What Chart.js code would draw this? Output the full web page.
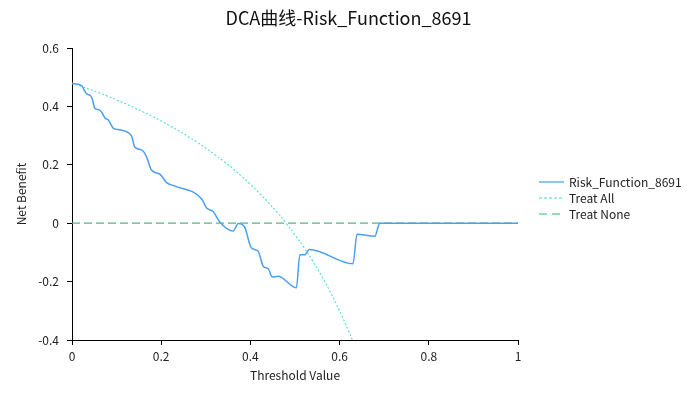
<!DOCTYPE html>
<html>
<head>
<meta charset="utf-8">
<script src="https://cdn.jsdelivr.net/npm/chart.js@4"></script>
<style>
  html, body { margin: 0; padding: 0; background: #fff; }
  #wrap { width: 687px; height: 393px; }
</style>
</head>
<body>
<div id="wrap"><canvas id="myChart" width="687" height="393"></canvas></div>
<script>
const riskX = [0, 0.022, 0.027, 0.033, 0.042, 0.046, 0.051, 0.061, 0.067, 0.074, 0.081, 0.093, 0.107, 0.126, 0.134, 0.141, 0.156, 0.167, 0.178, 0.197, 0.212, 0.231, 0.290, 0.302, 0.317, 0.331, 0.361, 0.373, 0.387, 0.402, 0.417, 0.429, 0.440, 0.449, 0.462, 0.503, 0.511, 0.522, 0.532, 0.630, 0.639, 0.679, 0.690, 1.0]
const riskY = [0.478, 0.471, 0.457, 0.443, 0.436, 0.423, 0.394, 0.388, 0.379, 0.360, 0.354, 0.325, 0.320, 0.310, 0.297, 0.260, 0.251, 0.228, 0.182, 0.168, 0.139, 0.127, 0.085, 0.052, 0.039, 0.005, -0.027, -0.001, -0.013, -0.084, -0.095, -0.148, -0.156, -0.184, -0.182, -0.221, -0.108, -0.108, -0.090, -0.139, -0.038, -0.045, 0, 0]

const allX = [0, 0.02, 0.04, 0.06, 0.08, 0.10, 0.12, 0.14, 0.16, 0.18, 0.20, 0.22, 0.24, 0.26, 0.28, 0.30, 0.32, 0.34, 0.36, 0.38, 0.40, 0.42, 0.44, 0.46, 0.48, 0.50, 0.52, 0.54, 0.56, 0.58, 0.60, 0.62, 0.63]
const allY = [0.480, 0.469, 0.458, 0.447, 0.435, 0.422, 0.409, 0.395, 0.381, 0.366, 0.350, 0.333, 0.316, 0.297, 0.278, 0.257, 0.235, 0.212, 0.188, 0.161, 0.133, 0.103, 0.071, 0.037, 0.000, -0.040, -0.083, -0.130, -0.182, -0.238, -0.300, -0.368, -0.405]

const noneX = [0, 1]
const noneY = [0, 0]

const chartTitle = 'DCA曲线-Risk_Function_8691'
const seriesNames = ['Risk_Function_8691', 'Treat All', 'Treat None']
const xTicks = [0, 0.2, 0.4, 0.6, 0.8, 1]
const yTicks = [-0.4, -0.2, 0, 0.2, 0.4, 0.6]

const fontFam = "'Noto Sans CJK SC', 'Noto Sans', sans-serif"
const toPoints = (xs, ys) => xs.map((x, i) => ({ x: x, y: ys[i] }))

// title + legend drawn by hand: title centred on whole canvas, legend with dash samples
const sidePlugin = {
    id: 'sideLegend',
    afterDraw(chart) {
        const ctx = chart.ctx
        const ca = chart.chartArea
        ctx.save()
        ctx.fillStyle = '#111'
        ctx.font = '18px ' + fontFam
        ctx.textAlign = 'center'
        ctx.textBaseline = 'middle'
        ctx.fillText(chartTitle, chart.width / 2 + 5, 18)

        const x0 = ca.right + 21
        const y0 = (ca.top + ca.bottom) / 2 - 12
        const styles = [
            { color: '#8ec5f2', dash: [], width: 2 },
            { color: '#a0ebe2', dash: [3, 2], width: 2 },
            { color: '#99dcae', dash: [8, 5], width: 2 }
        ]
        seriesNames.forEach((name, i) => {
            const y = y0 + i * 16
            ctx.beginPath()
            ctx.strokeStyle = styles[i].color
            ctx.lineWidth = styles[i].width
            ctx.setLineDash(styles[i].dash)
            ctx.moveTo(x0, y)
            ctx.lineTo(x0 + 25, y)
            ctx.stroke()
            ctx.setLineDash([])
            ctx.fillStyle = '#222'
            ctx.font = '12px ' + fontFam
            ctx.textBaseline = 'middle'
            ctx.textAlign = 'left'
            ctx.fillText(name, x0 + 30, y)
        })
        ctx.restore()
    }
}

const context = document.getElementById('myChart').getContext('2d')
new Chart(context, {
    type: 'line',
    data: {
        datasets: [
            {
                label: seriesNames[0],
                data: toPoints(riskX, riskY),
                borderColor: '#4a9ff0',
                borderWidth: 1.5,
                pointRadius: 0,
                cubicInterpolationMode: 'monotone',
                fill: false
            },
            {
                label: seriesNames[1],
                data: toPoints(allX, allY),
                borderColor: '#5fe0d0',
                borderWidth: 1.2,
                borderDash: [2, 2],
                pointRadius: 0,
                tension: 0.4,
                fill: false
            },
            {
                label: seriesNames[2],
                data: toPoints(noneX, noneY),
                borderColor: '#55b880',
                borderWidth: 1.2,
                borderDash: [8, 4],
                pointRadius: 0,
                fill: false
            }
        ]
    },
    options: {
        responsive: false,
        animation: false,
        layout: { padding: { left: 0, right: 169, top: 48, bottom: 0 } },
        plugins: {
            legend: { display: false },
            tooltip: { enabled: false },
            title: { display: false }
        },
        scales: {
            x: {
                type: 'linear',
                min: 0,
                max: 1,
                afterFit: s => { s.height = 53 },
                afterBuildTicks: s => { s.ticks = xTicks.map(v => ({ value: v })) },
                ticks: {
                    color: '#222',
                    padding: 4,
                    maxRotation: 0,
                    font: { family: fontFam, size: 12 },
                    callback: v => String(Number(v.toFixed(1)))
                },
                grid: { drawOnChartArea: false, color: '#000', tickLength: 5 },
                border: { color: '#000', width: 1 },
                title: {
                    display: true,
                    text: 'Threshold Value',
                    color: '#222',
                    font: { family: fontFam, size: 12 },
                    padding: { top: 0, bottom: 10 }
                }
            },
            y: {
                min: -0.4,
                max: 0.6,
                afterFit: s => { s.width = 72 },
                afterBuildTicks: s => { s.ticks = yTicks.map(v => ({ value: v })) },
                ticks: {
                    color: '#222',
                    padding: 8,
                    font: { family: fontFam, size: 12 },
                    callback: v => String(Number(v.toFixed(1)))
                },
                grid: { drawOnChartArea: false, color: '#000', tickLength: 5 },
                border: { color: '#000', width: 1 },
                title: {
                    display: true,
                    text: 'Net Benefit',
                    color: '#222',
                    font: { family: fontFam, size: 12 },
                    padding: { top: 14, bottom: 0 }
                }
            }
        }
    },
    plugins: [sidePlugin]
})
</script>
</body>
</html>
